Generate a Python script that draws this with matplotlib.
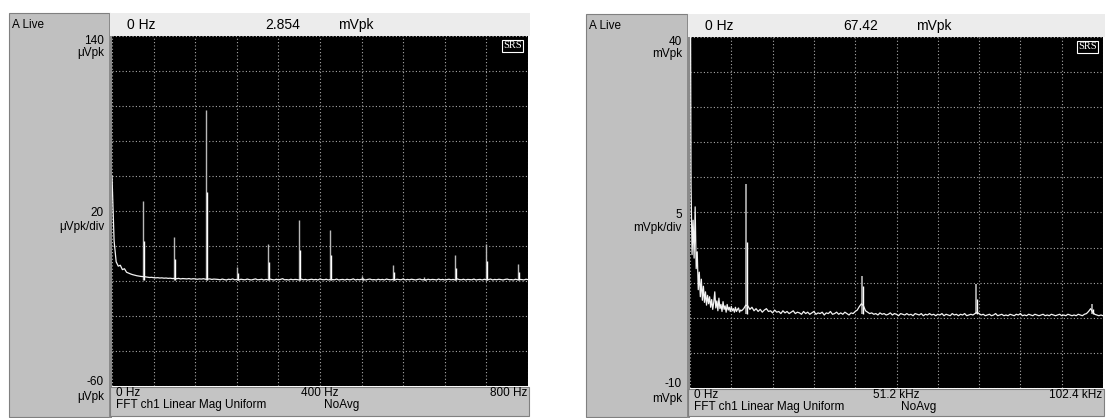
import numpy as np
import matplotlib
matplotlib.use('Agg')
import matplotlib.pyplot as plt
from matplotlib.patches import Rectangle

plt.rcParams['font.family'] = ['Liberation Sans', 'DejaVu Sans']

# ---- left trace: 0..800 Hz, 4 Hz per point, uVpk
left_step = 4
left_floor = [60, 23, 11, 8.5, 9, 6.5, 7, 5, 4.5, 4, 3.6, 3.3, 3.0, 2.8, 2.6, 2.5,
              2.4, 2.2, 2.0, 2.1, 1.9, 1.8, 1.9, 1.7, 1.8, 1.6,
              1.7, 1.5, 1.6, 1.4, 1.5, 1.3, 1.5, 1.2, 1.4, 1.3, 1.2, 1.4, 1.1, 1.3, 1.2,
              1.0, 1.2, 1.1, 1.3, 1.0, 1.1, 1.2, 0.9, 1.1, 1.0,
              0.9, 0.7, 1.1, 0.8, 0.6, 1.0, 0.8, 1.2, 0.7, 0.9, 0.6, 1.0, 0.8, 0.7, 1.1,
              0.8, 0.6, 0.9, 1.2, 0.7, 0.8, 1.0, 0.6, 0.9, 0.7, 1.1, 0.8, 0.6, 1.0, 0.7,
              0.9, 1.3, 0.7, 0.8, 0.6, 1.0, 0.7, 0.9, 0.8, 0.6, 1.1, 0.7, 0.9, 0.6, 0.8,
              1.0, 0.7, 0.9, 0.6, 1.2, 0.8, 0.7, 1.0, 0.6, 0.9, 0.8, 0.7, 1.1, 0.6, 0.8,
              0.9, 0.6, 1.0, 0.7, 0.8, 1.2, 0.6, 0.9, 0.7, 1.0, 0.8, 0.6, 0.9, 1.1, 0.7,
              0.8, 0.6, 1.0, 0.7, 0.9, 0.6, 1.1, 0.8, 0.7, 0.9, 0.6, 1.0, 0.8, 0.7, 1.2,
              0.6, 0.9, 0.7, 1.0, 0.8, 0.6, 0.9, 1.1, 0.7, 0.8, 0.6, 1.0, 0.7, 0.9, 0.8,
              0.6, 1.1, 0.7, 0.9, 0.6, 0.8, 1.0, 0.7, 0.9, 0.6, 1.2, 0.8, 0.7, 1.0, 0.6,
              0.9, 0.8, 0.7, 1.1, 0.6, 0.8, 0.9, 0.6, 1.0, 0.7, 0.8, 1.1, 0.6, 0.9, 0.7,
              1.0, 0.8, 0.6, 0.9, 1.1, 0.7, 0.8, 0.6, 1.0, 0.7, 0.9, 0.8, 0.6, 1.0, 0.8]
left_peak_f = [60, 120, 180, 240, 300, 360, 420, 480, 540, 600, 660, 720, 780]
left_peak_h = [46, 25, 98, 8, 21, 35, 29, 3, 9, 2.5, 15, 21, 10]
left_peak_s = [23, 12.6, 51, 4.6, 11, 18, 15, 1.5, 5, 1, 7.5, 11.6, 5.4]

# ---- right trace: kHz, mVpk
right_low_step = 0.256
right_low = [67, 19, 9, 13.9, 8.5, 15.8, 7, 9.4, 4, 6.5,
             3, 5.5, 2.5, 4.5, 2.2, 3.7, 1.8, 3.2, 2.0, 3.0,
             1.5, 2.6, 1.2, 2.2, 3.7, 1.4, 2.4, 1.0, 2.8, 1.3,
             1.9, 0.9, 2.3, 1.2, 1.7, 0.8, 1.9, 1.1, 1.5, 0.9,
             1.6, 1.0, 1.3, 0.8, 1.5, 0.9, 1.2, 1.4, 0.8, 1.1]
right_high_start = 12.8
right_high_step = 0.512
right_high = [1.0, 1.3, 1.8, 1.7, 1.2, 1.5, 1.0, 1.3, 0.9, 1.2, 0.8, 1.1, 1.3, 0.9, 1.0, 0.7,
              1.1, 0.8, 0.9, 0.6, 1.0, 0.7, 0.9, 0.6, 0.8, 1.0, 0.6, 0.8, 0.7, 0.5, 0.9, 0.6,
              0.8, 0.5, 0.7, 0.9, 0.5, 0.7, 0.6, 0.8, 0.4, 0.7, 0.6, 0.9, 0.5, 0.6, 0.8, 0.5,
              0.7, 0.5, 0.8, 0.6, 0.4, 0.7, 0.6, 0.9, 1.1, 1.6, 2.0, 1.7, 1.0, 0.8, 0.6, 0.7,
              0.5, 0.6, 0.4, 0.7, 0.5, 0.6, 0.4, 0.5, 0.7, 0.4, 0.6, 0.5, 0.3, 0.6, 0.5, 0.4,
              0.6, 0.4, 0.5, 0.3, 0.6, 0.5, 0.4, 0.6, 0.3, 0.5, 0.4, 0.6, 0.4, 0.5, 0.3, 0.5,
              0.4, 0.6, 0.3, 0.5, 0.4, 0.3, 0.6, 0.4, 0.5, 0.3, 0.5, 0.4, 0.6, 0.3, 0.4, 0.5,
              0.4, 0.6, 0.8, 0.6, 0.4, 0.5, 0.3, 0.4, 0.5, 0.3, 0.4, 0.6, 0.3, 0.4, 0.5, 0.3,
              0.4, 0.3, 0.5, 0.4, 0.3, 0.5, 0.4, 0.6, 0.3, 0.4, 0.3, 0.5, 0.4, 0.3, 0.5, 0.4,
              0.3, 0.4, 0.5, 0.3, 0.4, 0.3, 0.5, 0.4, 0.3, 0.4, 0.5, 0.3, 0.4, 0.3, 0.5, 0.4,
              0.3, 0.4, 0.3, 0.5, 0.4, 0.3, 0.5, 0.6, 0.9, 1.3, 0.8, 0.5, 0.4, 0.3, 0.4, 0.3]
right_peak_f = [13.8, 42.6, 70.9, 99.6]
right_peak_h = [19.0, 6.0, 4.8, 2.0]
right_peak_s = [10.8, 4.6, 2.7, 1.2]

W, H = 1106, 418
fig = plt.figure(figsize=(W / 100, H / 100), dpi=100)
bg = fig.add_axes([0, 0, 1, 1])
bg.set_xlim(0, W)
bg.set_ylim(H, 0)
bg.axis('off')


def box(x, y, w, h):
    return [x / W, 1 - (y + h) / H, w / W, h / H]


def panel(x0, y0, px, py, pw, ph, xmax, ylo, yhi, head, side, bottom):
    # grey frame pieces
    bg.add_patch(Rectangle((x0, y0), px - x0 - 2, H - y0 - 1, fc='#c0c0c0', ec='#808080', lw=0.8))
    bg.add_patch(Rectangle((px - 3, y0), 3, H - y0, fc='#8a8a8a', ec='none'))
    bg.add_patch(Rectangle((px - 2, y0), pw + 4, py - y0, fc='#ececec', ec='none'))
    bg.add_patch(Rectangle((px - 2, py + ph + 1), pw + 3, H - py - ph - 3, fc='#c4c4c4', ec='#808080', lw=0.8))
    hs = 10
    bg.text(x0 + 3, y0 + 12, 'A Live', fontsize=8.5, va='center')
    bg.text(px + 15, y0 + 12, '0 Hz', fontsize=hs, va='center')
    bg.text(px + 153, y0 + 12, head[0], fontsize=hs, va='center')
    bg.text(px + 226, y0 + 12, 'mVpk', fontsize=hs, va='center')
    r = px - 8
    bg.text(r, py + 5, side[0], fontsize=8.5, va='center', ha='right')
    bg.text(r, py + 17, side[1], fontsize=8.5, va='center', ha='right')
    bg.text(r, py + ph / 2 + 2, side[2], fontsize=8.5, va='center', ha='right')
    bg.text(r, py + ph / 2 + 16, side[3], fontsize=8.5, va='center', ha='right')
    bg.text(r, py + ph - 4, side[4], fontsize=8.5, va='center', ha='right')
    bg.text(r, py + ph + 11, side[5], fontsize=8.5, va='center', ha='right')
    by = py + ph + 7
    bg.text(px + 4, by, '0 Hz', fontsize=8.5, va='center')
    bg.text(px + pw / 2, by, bottom[0], fontsize=8.5, va='center', ha='center')
    bg.text(px + pw - 1, by, bottom[1], fontsize=8.5, va='center', ha='right')
    bg.text(px + 4, by + 12, 'FFT ch1 Linear Mag Uniform', fontsize=8.5, va='center')
    bg.text(px + pw / 2 + 4, by + 12, 'NoAvg', fontsize=8.5, va='center')

    ax = fig.add_axes(box(px, py, pw, ph))
    ax.set_facecolor('black')
    ax.set_xlim(0, xmax)
    ax.set_ylim(ylo, yhi)
    ax.set_xticks(np.linspace(0, xmax, 11))
    ax.set_yticks(np.linspace(ylo, yhi, 11))
    ax.grid(color='#a8a8a8', linestyle=(0, (1, 2)), lw=0.8)
    ax.tick_params(length=0, labelbottom=False, labelleft=False)
    for s in ax.spines.values():
        s.set_visible(False)
    # SRS logo
    ax.text(0.985, 0.985, 'SRS', transform=ax.transAxes, ha='right', va='top',
            family='Liberation Serif', fontsize=7.5, color='white',
            bbox=dict(boxstyle='square,pad=0.15', fc='black', ec='white', lw=0.8))
    return ax


axl = panel(9, 13, 112, 36, 416, 350, 800, -60, 140, ['2.854'],
            ['140', 'μVpk', '20', 'μVpk/div', '-60', 'μVpk'], ['400 Hz', '800 Hz'])
fl = np.arange(len(left_floor)) * left_step
axl.vlines(left_peak_f, 0.8, left_peak_h, color='#b8b8b8', lw=1.0)
axl.vlines(np.array(left_peak_f) + 2, 0.8, left_peak_s, color='white', lw=1.0)
axl.plot(fl, left_floor, color='#f2f2f2', lw=0.9)

axr = panel(586, 14, 690, 37, 413, 351, 102.4, -10, 40, ['67.42'],
            ['40', 'mVpk', '5', 'mVpk/div', '-10', 'mVpk'], ['51.2 kHz', '102.4 kHz'])
fr = np.concatenate([np.arange(len(right_low)) * right_low_step,
                     right_high_start + np.arange(len(right_high)) * right_high_step])
vr = np.concatenate([right_low, right_high])
axr.vlines(right_peak_f, 0.5, right_peak_h, color='#b8b8b8', lw=1.2)
axr.vlines(np.array(right_peak_f) + 0.25, 0.5, right_peak_s, color='white', lw=1.0)
axr.plot(fr, vr, color='#f2f2f2', lw=0.9)

fig.savefig('out.png', dpi=100, facecolor='white')
